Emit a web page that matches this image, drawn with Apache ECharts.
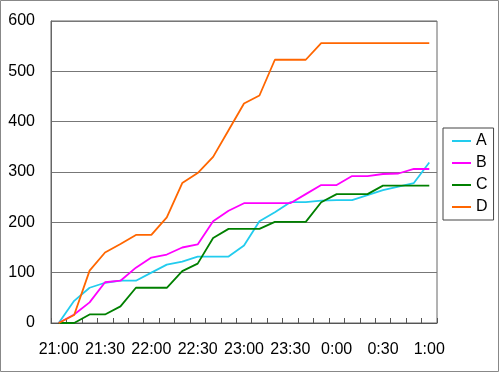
<!DOCTYPE html>
<html>
<head>
<meta charset="utf-8">
<script src="https://cdn.jsdelivr.net/npm/echarts@6/dist/echarts.min.js"></script>
<style>
html,body{margin:0;padding:0;background:#fff;}
#c{width:500px;height:373px;}
</style>
</head>
<body>
<div id="c"></div>
<script>
var times = ['21:00','21:10','21:20','21:30','21:40','21:50','22:00','22:10','22:20','22:30','22:40','22:50','23:00','23:10','23:20','23:30','23:40','23:50','0:00','0:10','0:20','0:30','0:40','0:50','1:00'];
var seriesA = [0,44,70,80,84,84,100,116,122,132,132,132,154,202,220,240,240,243,244,244,254,264,271,278,319];
var seriesB = [0,17,41,81,84,110,130,136,150,156,202,223,238,238,238,238,256,274,274,292,292,296,297,306,306];
var seriesC = [0,0,17,17,33,70,70,70,103,118,169,187,187,187,201,201,201,240,256,256,256,273,273,273,273];
var seriesD = [0,16,104,140,157,175,175,210,278,298,330,383,436,452,523,523,523,556,556,556,556,556,556,556,556];
var names = ['A','B','C','D'];
var colors = ['#22CCEE','#FF00FF','#008000','#FF6600'];
var yTicks = [0,100,200,300,400,500,600];

var chart = echarts.init(document.getElementById('c'), null, {renderer:'canvas'});
var font = 'Liberation Sans, Arial, sans-serif';
function mk(name, data, color){
  return {name:name, type:'line', data:data, symbol:'none', smooth:false,
    lineStyle:{color:color, width:1.8}, itemStyle:{color:color}, animation:false};
}
chart.setOption({
  animation:false,
  backgroundColor:'#fff',
  textStyle:{fontFamily:font},
  graphic:[{type:'rect', shape:{x:0.5,y:0.5,width:498,height:371}, style:{fill:'none', stroke:'#888', lineWidth:1}, silent:true}],
  grid:{left:51, top:21, right:63, bottom:50, show:true, borderColor:'#666', borderWidth:1, backgroundColor:'#fff'},
  legend:{orient:'vertical', left:443, top:128, padding:[5,6,5,9], itemWidth:19, itemHeight:2, itemGap:6, icon:'rect',
    borderColor:'#444', borderWidth:1, backgroundColor:'#fff',
    textStyle:{fontSize:16, lineHeight:16, color:'#000', fontFamily:font},
    data:names},
  xAxis:{type:'category', data:times, boundaryGap:true,
    axisLine:{lineStyle:{color:'#555', width:1}},
    axisTick:{show:true, inside:true, length:5, interval:0, lineStyle:{color:'#555'}},
    axisLabel:{interval:2, margin:19, fontSize:16, color:'#000', fontFamily:font},
    splitLine:{show:false}},
  yAxis:{type:'value', min:yTicks[0], max:yTicks[yTicks.length-1], interval:100,
    axisLine:{show:true, lineStyle:{color:'#666'}},
    axisTick:{show:false},
    axisLabel:{margin:16, fontSize:16, color:'#000', fontFamily:font},
    splitLine:{lineStyle:{color:'#777', width:1}}},
  series:[mk(names[0],seriesA,colors[0]), mk(names[1],seriesB,colors[1]), mk(names[2],seriesC,colors[2]), mk(names[3],seriesD,colors[3])]
});
</script>
</body>
</html>
